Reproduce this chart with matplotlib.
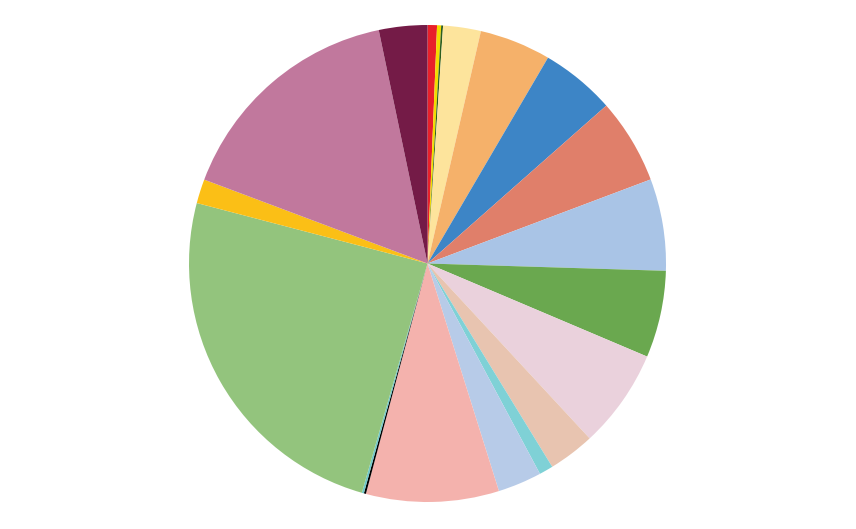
import matplotlib
matplotlib.use('Agg')
import matplotlib.pyplot as plt

# slice sizes (clockwise from the top)
valores = [2.3, 1.0, 0.45, 9.2, 17.4, 18.2, 20.8, 22.4, 21.2, 24.2,
           11.3, 3.4, 10.7, 32.4, 0.5, 0.5, 88.7, 5.9, 57.6, 11.8]
colores = ['#e8202a', '#f2dc00', '#2d5e1e', '#fde49c', '#f5b16a',
           '#3d85c6', '#e07f6a', '#a9c4e6', '#6aa84f', '#ead1dc',
           '#e8c4b0', '#7fd1d6', '#b7cbe8', '#f4b2ad', '#000000',
           '#6fc9c9', '#93c47d', '#fbbf16', '#c1789d', '#741b47']

fig = plt.figure(figsize=(8.56, 5.29), dpi=100)
ax = fig.add_axes([189 / 856, 27 / 529, 477 / 856, 477 / 529])
ax.pie(valores, colors=colores, startangle=90, counterclock=False,
       radius=1, wedgeprops={'linewidth': 0})
ax.set_xlim(-1, 1)
ax.set_ylim(-1, 1)
ax.set_aspect('equal')
ax.axis('off')
fig.savefig('out.png', dpi=100, facecolor='white')
